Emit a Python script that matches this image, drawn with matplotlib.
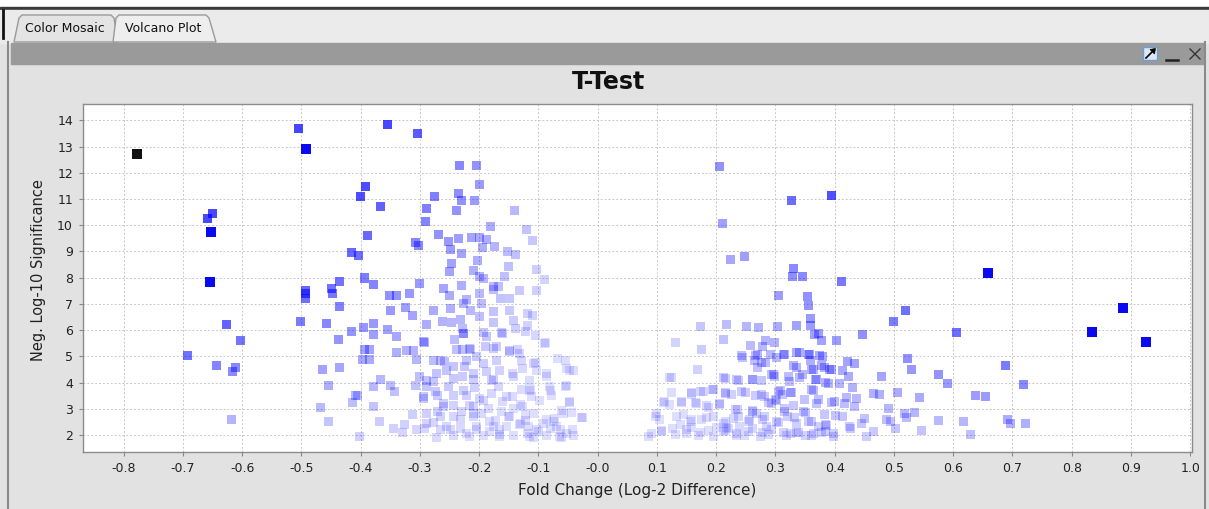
import numpy as np
import matplotlib
matplotlib.use('Agg')
import matplotlib.pyplot as plt
from matplotlib.patches import Rectangle, Polygon
from matplotlib.ticker import FormatStrFormatter

plt.rcParams['font.family'] = ['DejaVu Sans']
plt.rcParams['axes.unicode_minus'] = False

# ---- data ----
# down-regulated side (negative fold change)
left_fc = [
    -0.504, -0.355, -0.304, -0.658, -0.650, -0.626, -0.603, -0.692, -0.643, -0.611, -0.617, -0.618,
    -0.392, -0.401, -0.367, -0.389, -0.415, -0.403,
    -0.493, -0.493, -0.493, -0.449, -0.448, -0.435, -0.393, -0.379, -0.352, -0.340, -0.349, -0.435,
    -0.502, -0.457, -0.416, -0.395, -0.378, -0.355, -0.340, -0.437, -0.379, -0.393, -0.385, -0.397, -0.385,
    -0.435, -0.464, -0.454, -0.406, -0.379, -0.367, -0.350, -0.342, -0.340,
    -0.233, -0.204, -0.199, -0.276, -0.235, -0.230, -0.207, -0.289, -0.239, -0.141, -0.290, -0.180,
    -0.120, -0.110, -0.268, -0.252, -0.235, -0.213, -0.199, -0.188, -0.248, -0.230, -0.194, -0.174,
    -0.152, -0.139, -0.308, -0.303, -0.203, -0.247, -0.250, -0.210, -0.199, -0.192, -0.151, -0.158,
    -0.103, -0.089, -0.175, -0.168,
    -0.318, -0.301, -0.260, -0.250, -0.229, -0.221, -0.227, -0.199, -0.176, -0.164, -0.148, -0.132,
    -0.103, -0.196,
    -0.324, -0.312, -0.277, -0.249, -0.214, -0.199, -0.176, -0.148, -0.119, -0.110,
    -0.289, -0.261, -0.246, -0.232, -0.228, -0.226, -0.193, -0.176, -0.162, -0.142, -0.139, -0.119,
    -0.105, -0.088,
    -0.322, -0.311, -0.293, -0.305, -0.277, -0.266, -0.241, -0.238, -0.228, -0.215, -0.221, -0.204,
    -0.190, -0.176, -0.170, -0.148, -0.135, -0.128, -0.105, -0.104, -0.067, -0.052, -0.041,
    -0.468, -0.455, -0.402, -0.408, -0.414, -0.379, -0.368, -0.345, -0.326, -0.329, -0.312, -0.307,
    -0.301, -0.289, -0.277, -0.294, -0.271, -0.255, -0.243, -0.252, -0.243, -0.228, -0.210, -0.207,
    -0.221, -0.199, -0.187, -0.176, -0.167, -0.153, -0.142, -0.128, -0.114, -0.111, -0.086, -0.081,
    -0.078, -0.053, -0.047, -0.061, -0.044, -0.026,
    -0.289, -0.271, -0.260, -0.243, -0.229, -0.210, -0.210, -0.196, -0.185, -0.173, -0.176, -0.162,
    -0.148, -0.142, -0.131, -0.122, -0.117, -0.108, -0.100, -0.091, -0.075, -0.070, -0.058, -0.052,
    -0.041, -0.061,
    -0.305, -0.293, -0.277, -0.266, -0.255, -0.243, -0.232, -0.221, -0.204, -0.193, -0.182, -0.165,
    -0.153, -0.142, -0.119, -0.108, -0.086, -0.080, -0.131,
    -0.294, -0.227, -0.188, -0.160, -0.121, -0.090, -0.216, -0.171, -0.149, -0.132, -0.054, -0.048,
    -0.288, -0.272, -0.258, -0.244, -0.224, -0.210, -0.193, -0.179, -0.165, -0.143, -0.126, -0.109,
    -0.087, -0.115,
    -0.294, -0.274, -0.260, -0.244, -0.227, -0.216, -0.193, -0.179, -0.160, -0.143, -0.126, -0.115,
    -0.098, -0.079, -0.048, -0.054,
    -0.288, -0.266, -0.249, -0.232, -0.210, -0.204, -0.182, -0.165, -0.151, -0.132, -0.121, -0.104,
    -0.087, -0.073, -0.062, -0.042, -0.027,
    -0.272, -0.216, -0.165, -0.115, -0.065,
]
left_sig = [
    13.67, 13.85, 13.48, 10.27, 10.43, 6.23, 5.62, 5.03, 4.64, 4.59, 4.43, 2.61,
    11.47, 11.10, 10.72, 9.61, 8.95, 8.86,
    7.51, 7.40, 7.21, 7.60, 7.41, 7.86, 7.99, 7.74, 7.32, 7.32, 6.75, 6.89,
    6.35, 6.25, 5.97, 6.10, 6.25, 6.03, 5.75, 5.64, 5.83, 5.25, 5.28, 4.89, 4.89,
    4.58, 4.50, 3.88, 3.50, 3.87, 4.14, 3.90, 3.65, 5.16,
    12.26, 12.26, 11.57, 11.10, 11.22, 10.94, 10.94, 10.62, 10.56, 10.56, 10.14, 9.94,
    9.84, 9.40, 9.63, 9.38, 9.48, 9.53, 9.53, 9.44, 9.06, 8.91, 9.16, 9.19,
    9.00, 8.87, 9.35, 9.23, 8.65, 8.53, 8.23, 8.29, 8.04, 7.97, 8.42, 8.04,
    8.32, 7.94, 7.66, 7.68,
    7.41, 7.79, 7.60, 7.31, 7.72, 7.18, 7.03, 7.41, 7.56, 7.22, 7.22, 7.53,
    7.53, 7.03,
    6.87, 6.58, 6.77, 6.84, 6.77, 6.52, 6.71, 6.77, 6.62, 6.55,
    6.20, 6.33, 6.28, 6.41, 6.05, 5.86, 5.92, 6.29, 5.92, 6.36, 6.05, 6.17,
    5.79, 5.54,
    5.22, 5.22, 5.52, 4.89, 4.86, 4.86, 5.63, 5.25, 5.25, 5.25, 4.86, 4.99,
    5.37, 5.31, 4.86, 5.18, 5.25, 4.86, 4.76, 4.48, 4.93, 4.54, 4.46,
    3.04, 2.53, 1.94, 3.53, 3.24, 3.11, 2.51, 2.25, 2.42, 2.09, 2.77, 3.90,
    4.25, 3.87, 4.03, 3.41, 3.53, 4.48, 4.61, 3.87, 3.15, 4.25, 4.13, 3.81,
    3.53, 3.41, 4.42, 4.13, 3.87, 3.48, 4.25, 3.74, 3.74, 3.48, 4.25, 3.87,
    3.53, 3.90, 3.25, 2.93, 2.86, 2.67,
    2.83, 2.90, 3.09, 2.71, 2.90, 3.09, 2.71, 2.83, 3.03, 2.57, 2.32, 2.90,
    2.71, 3.03, 2.45, 2.57, 2.32, 2.83, 2.13, 2.45, 2.51, 2.32, 2.83, 2.06,
    2.00, 1.93,
    2.20, 2.26, 2.48, 2.20, 2.32, 2.00, 2.26, 2.07, 2.22, 2.00, 2.13, 2.04,
    2.32, 2.00, 2.06, 1.93, 2.00, 2.26, 3.16,
    5.56, 5.87, 5.75, 5.87, 5.94, 5.49, 5.30, 5.37, 5.24, 5.11, 4.86, 4.48,
    4.10, 4.35, 4.80, 4.16, 4.61, 4.35, 4.73, 4.10, 4.48, 4.35, 4.54, 4.73,
    4.35, 4.10,
    3.47, 3.66, 3.22, 3.53, 3.72, 3.15, 3.34, 3.59, 3.28, 3.47, 3.09, 3.72,
    3.34, 3.72, 3.28, 3.85,
    2.46, 2.71, 2.20, 2.58, 2.84, 2.33, 2.52, 2.20, 2.71, 2.39, 2.77, 2.20,
    2.58, 2.65, 2.20, 2.20, 2.68,
    1.93, 1.94, 1.94, 1.95, 1.94,
]

# up-regulated side (positive fold change)
right_fc = [
    0.519, 0.500, 0.606, 0.523, 0.529, 0.479, 0.575, 0.591, 0.688, 0.719, 0.476, 0.506,
    0.543, 0.637, 0.655, 0.490, 0.517, 0.534, 0.522, 0.488, 0.495, 0.503, 0.575, 0.547,
    0.618, 0.629, 0.692, 0.697, 0.722,
    0.205, 0.327, 0.395, 0.211, 0.225, 0.247, 0.331, 0.328, 0.346, 0.412, 0.306, 0.354,
    0.356, 0.360, 0.360, 0.447, 0.366, 0.372, 0.377, 0.403, 0.173, 0.218, 0.252, 0.272,
    0.304, 0.335, 0.132, 0.175, 0.212, 0.258, 0.283, 0.299, 0.278, 0.169, 0.125, 0.245,
    0.265, 0.270, 0.302, 0.316, 0.340, 0.357, 0.379, 0.269, 0.284, 0.335, 0.360, 0.364,
    0.382, 0.392, 0.422, 0.434, 0.413, 0.423, 0.297, 0.299, 0.341, 0.369, 0.389, 0.408,
    0.216, 0.237, 0.262, 0.277, 0.323, 0.430, 0.465, 0.364, 0.437, 0.420, 0.196, 0.159,
    0.178, 0.216, 0.226, 0.250, 0.267, 0.282, 0.308, 0.312, 0.327, 0.113, 0.122, 0.142,
    0.166, 0.184, 0.206, 0.236, 0.261, 0.268, 0.294, 0.302, 0.316, 0.330, 0.349, 0.350,
    0.369, 0.399, 0.416, 0.434, 0.100, 0.105, 0.145, 0.139, 0.156, 0.175, 0.195, 0.212,
    0.229, 0.240, 0.254, 0.279, 0.285, 0.302, 0.321, 0.336, 0.355, 0.372, 0.383, 0.386,
    0.401, 0.413, 0.425, 0.445, 0.451, 0.465, 0.091, 0.108, 0.127, 0.150, 0.159, 0.170,
    0.187, 0.201, 0.215, 0.220, 0.234, 0.248, 0.262, 0.279, 0.288, 0.313, 0.325, 0.336,
    0.350, 0.364, 0.378, 0.398, 0.426, 0.453,
    0.266, 0.291, 0.313, 0.336, 0.356, 0.375, 0.330, 0.361, 0.378, 0.395, 0.243, 0.277,
    0.122, 0.212, 0.234, 0.262, 0.294, 0.322, 0.345, 0.367, 0.384, 0.361, 0.159, 0.173,
    0.193, 0.215, 0.243, 0.277, 0.305, 0.325, 0.125,
    0.111, 0.142, 0.165, 0.187, 0.206, 0.232, 0.262, 0.288, 0.300, 0.316, 0.347, 0.373,
    0.395, 0.097, 0.133, 0.159, 0.184, 0.215, 0.237, 0.257, 0.282, 0.305, 0.333, 0.361,
    0.384,
    0.086, 0.108, 0.131, 0.150, 0.173, 0.196, 0.212, 0.218, 0.234, 0.254, 0.274, 0.294,
    0.319, 0.339, 0.361, 0.384, 0.398,
]
right_sig = [
    6.74, 6.33, 5.91, 4.91, 4.50, 4.23, 4.32, 3.97, 4.64, 3.94, 3.54, 3.61,
    3.42, 3.52, 3.49, 3.01, 2.84, 2.88, 2.67, 2.61, 2.52, 2.27, 2.56, 2.18,
    2.52, 2.04, 2.61, 2.46, 2.43,
    12.25, 10.96, 11.15, 10.05, 8.68, 8.82, 8.34, 8.05, 8.05, 7.87, 7.32, 7.28,
    6.95, 6.44, 6.17, 5.85, 5.84, 5.86, 5.62, 5.62, 6.13, 6.22, 6.16, 6.12,
    6.13, 6.17, 5.53, 5.28, 5.64, 5.40, 5.59, 5.53, 5.38, 4.50, 4.18, 4.97,
    4.86, 5.09, 4.95, 5.09, 5.15, 5.06, 5.00, 4.59, 4.77, 4.59, 4.84, 4.51,
    4.59, 4.49, 4.80, 4.75, 4.47, 4.24, 4.33, 4.24, 4.21, 4.11, 3.98, 3.98,
    4.16, 4.08, 4.13, 4.08, 4.04, 3.83, 3.60, 3.70, 3.41, 3.45, 3.75, 3.57,
    3.65, 3.60, 3.54, 3.62, 3.50, 3.47, 3.70, 3.54, 3.64, 3.29, 3.16, 3.25,
    3.22, 3.12, 3.22, 2.99, 2.96, 2.84, 3.19, 3.32, 3.03, 3.12, 3.37, 2.86,
    3.22, 3.29, 3.19, 3.09, 2.82, 2.59, 2.78, 2.40, 2.53, 2.61, 2.71, 2.46,
    2.65, 2.33, 2.53, 2.61, 2.33, 2.53, 2.71, 2.46, 2.53, 2.33, 2.78, 2.36,
    2.74, 2.71, 2.33, 2.46, 2.65, 2.14, 2.05, 2.18, 2.24, 2.05, 2.31, 1.99,
    2.18, 2.31, 2.18, 2.24, 2.05, 1.99, 2.24, 2.11, 2.02, 2.11, 2.07, 2.11,
    1.99, 2.05, 2.11, 2.05, 2.24, 1.95,
    5.02, 5.08, 5.08, 5.15, 5.08, 5.02, 4.64, 4.51, 4.64, 4.51, 5.02, 4.76,
    4.19, 4.19, 4.13, 4.13, 4.32, 4.25, 4.32, 4.13, 4.00, 3.75, 3.62, 3.68,
    3.75, 3.62, 3.68, 3.55, 3.68, 3.62, 3.62,
    3.24, 3.30, 3.24, 3.04, 3.17, 2.98, 2.92, 3.24, 3.36, 2.92, 2.92, 3.36,
    3.24, 2.73, 2.73, 2.60, 2.66, 2.54, 2.73, 2.60, 2.73, 2.47, 2.66, 2.54,
    2.41,
    1.96, 2.15, 2.03, 2.22, 2.09, 1.94, 2.15, 2.28, 1.99, 2.15, 1.94, 2.22,
    1.99, 2.11, 1.99, 2.15, 1.94,
]

# strongest hits (drawn fully opaque) and the selected gene
hit_fc = [-0.492, -0.653, -0.654, 0.659, 0.887, 0.834, 0.926]
hit_sig = [12.90, 9.75, 7.83, 8.19, 6.86, 5.94, 5.54]
sel_fc = [-0.777]
sel_sig = [12.73]

x_ticks = np.round(np.arange(-0.8, 1.01, 0.1), 1)
y_ticks = list(range(2, 15))

W, H = 1209, 509
fig = plt.figure(figsize=(W / 100, H / 100), dpi=100, facecolor='#e2e2e2')

# ---- window chrome drawn in pixel coordinates ----
bg = fig.add_axes([0, 0, 1, 1], zorder=0)
bg.set_xlim(0, W)
bg.set_ylim(H, 0)
bg.axis('off')
bg.add_patch(Rectangle((0, 0), W, 7, color='white'))
bg.add_patch(Rectangle((0, 7), W, 2.5, color='#3a3a3a'))
bg.add_patch(Rectangle((0, 9.5), W, 33, color='#ebebeb'))
bg.plot([3, 3], [10, 38], color='#111111', lw=2)
bg.add_patch(Polygon([(14, 42), (19, 18), (22, 15), (111, 15), (114, 18), (118, 42)],
                     closed=True, fc='#e4e4e4', ec='#9a9a9a', lw=1))
bg.add_patch(Polygon([(113, 42), (116, 18), (119, 15), (206, 15), (209, 18), (216, 42)],
                     closed=True, fc='#eeeeee', ec='#9a9a9a', lw=1))
bg.text(65, 28, 'Color Mosaic', ha='center', va='center', fontsize=9, color='#111111')
bg.text(163, 28, 'Volcano Plot', ha='center', va='center', fontsize=9, color='#111111')
bg.add_patch(Rectangle((10.7, 42.7), 1193.3, 21.6, color='#9a9a9a'))
bg.plot([8, 8], [42, H], color='#8a8a8a', lw=1.5)
bg.plot([1205, 1205], [42, H], color='#8a8a8a', lw=1.5)
# little window buttons
bg.add_patch(Rectangle((1143, 47), 14, 13, fc='#dde6f3', ec='#6f9bd6', lw=1))
bg.plot([1146, 1154], [58, 50], color='black', lw=1.2)
bg.add_patch(Polygon([(1155.5, 48.5), (1150, 49.5), (1154.5, 54)], closed=True,
                     fc='black', ec='black', lw=0.5))
bg.plot([1166, 1178], [59.5, 59.5], color='#222222', lw=1.8)
bg.plot([1190, 1200], [49, 59], color='#333333', lw=1)
bg.plot([1190, 1200], [59, 49], color='#333333', lw=1)
bg.text(608, 82, 'T-Test', ha='center', va='center', fontsize=17, fontweight='bold',
        color='#111111')

# ---- the volcano plot ----
ax = fig.add_axes([82.7 / W, 1 - 452 / H, (1191.7 - 82.7) / W, (452 - 104) / H], zorder=1)
ax.set_facecolor('white')

def blue_shades(fc, sig):
    a = np.clip(0.07 + 0.14 * np.abs(np.array(fc)) * np.array(sig), 0.13, 0.72)
    c = np.zeros((len(a), 4))
    c[:, 2] = 1.0
    c[:, 3] = a
    return c

ax.scatter(left_fc, left_sig, s=42, marker='s', c=blue_shades(left_fc, left_sig),
           linewidths=0, zorder=2)
ax.scatter(right_fc, right_sig, s=42, marker='s', c=blue_shades(right_fc, right_sig),
           linewidths=0, zorder=2)
ax.scatter(hit_fc, hit_sig, s=42, marker='s', color='#0a0af0', linewidths=0, zorder=3)
ax.scatter(sel_fc, sel_sig, s=42, marker='s', color='#111111', linewidths=0, zorder=4)

ax.set_xlim(-0.869, 1.0025)
ax.set_ylim(1.36, 14.62)
ax.set_xticks(x_ticks)
ax.set_yticks(y_ticks)
ax.xaxis.set_major_formatter(FormatStrFormatter('%.1f'))
ax.grid(True, color='#c8c8c8', linestyle=(0, (2, 2)), linewidth=0.7)
ax.set_axisbelow(True)
ax.tick_params(axis='both', length=3, width=0.8, color='#888888', labelsize=9,
               labelcolor='#222222', pad=4)
for sp in ax.spines.values():
    sp.set_color('#8c8c8c')
    sp.set_linewidth(1)

ax.set_xlabel('Fold Change (Log-2 Difference)', fontsize=11, color='#222222', va='center')
ax.xaxis.set_label_coords(0.5, (452 - 490) / 348)
ax.set_ylabel('Neg. Log-10 Significance', fontsize=10.5, color='#222222', va='center')
ax.yaxis.set_label_coords((39 - 82.7) / 1109, (452 - 270) / 348)

fig.savefig('out.png', dpi=100, facecolor=fig.get_facecolor())
